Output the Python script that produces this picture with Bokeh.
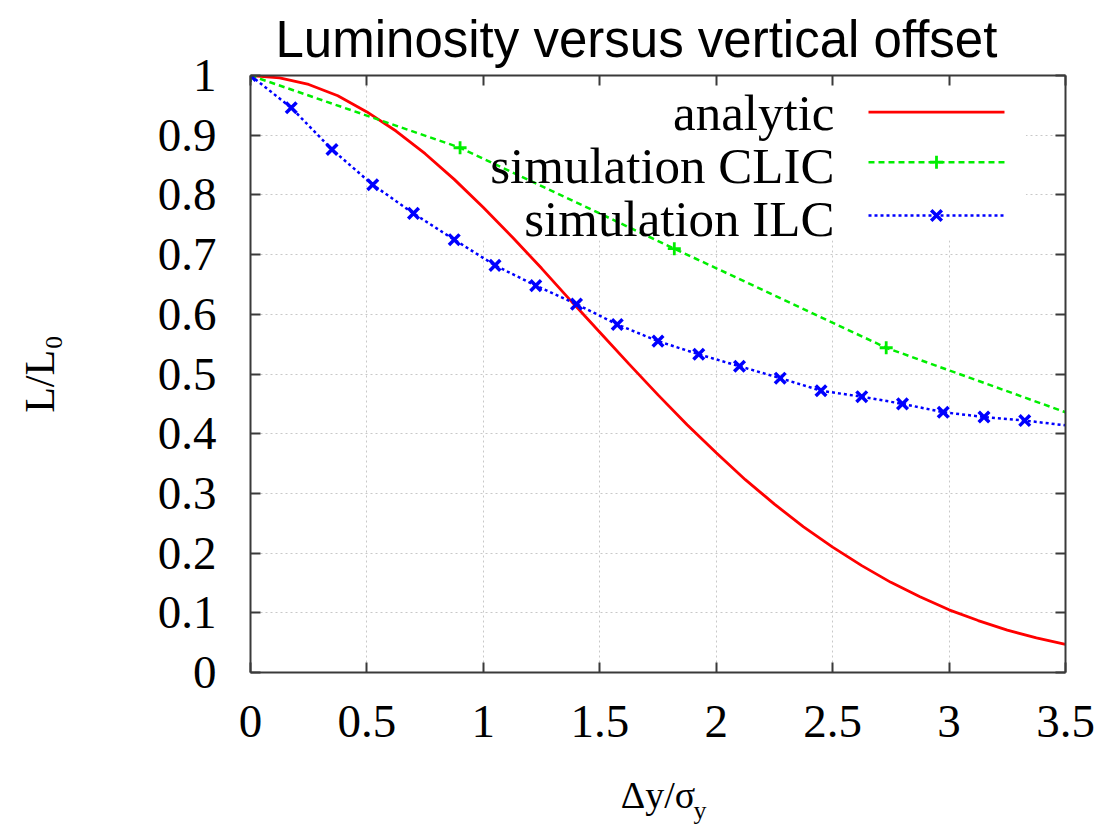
from bokeh.plotting import figure
from bokeh.models import LinearAxis, FixedTicker, Label, Range1d, Grid
from bokeh.embed import file_html
from bokeh.resources import INLINE

# ---------------- data ----------------
TITLE = "Luminosity versus vertical offset"
X_LABEL_MAIN, X_LABEL_SUB = "Δy/σ", "y"
Y_LABEL = "L/L₀"

x_ticks = [0, 0.5, 1, 1.5, 2, 2.5, 3, 3.5]
x_tick_labels = ["0", "0.5", "1", "1.5", "2", "2.5", "3", "3.5"]
y_ticks = [0, 0.1, 0.2, 0.3, 0.4, 0.5, 0.6, 0.7, 0.8, 0.9, 1]
y_tick_labels = ["0", "0.1", "0.2", "0.3", "0.4", "0.5", "0.6", "0.7", "0.8", "0.9", "1"]

series_names = ["analytic", "simulation CLIC", "simulation ILC"]

analytic_x = [0, 0.125, 0.25, 0.375, 0.5, 0.625, 0.75, 0.875, 1.0, 1.125, 1.25, 1.375,
              1.5, 1.625, 1.75, 1.875, 2.0, 2.125, 2.25, 2.375, 2.5, 2.625, 2.75, 2.875,
              3.0, 3.125, 3.25, 3.375, 3.5]
analytic_y = [1.0, 0.996, 0.985, 0.966, 0.939, 0.907, 0.869, 0.826, 0.779, 0.729, 0.677, 0.623,
              0.570, 0.517, 0.465, 0.415, 0.368, 0.323, 0.282, 0.244, 0.210, 0.179, 0.151, 0.127,
              0.105, 0.087, 0.071, 0.058, 0.047]

clic_x = [0, 0.9, 1.82, 2.73, 3.5]
clic_y = [1.0, 0.879, 0.710, 0.544, 0.436]

ilc_x = [0, 0.175, 0.35, 0.525, 0.7, 0.875, 1.05, 1.225, 1.4, 1.575, 1.75, 1.925,
         2.1, 2.275, 2.45, 2.625, 2.8, 2.975, 3.15, 3.325, 3.5]
ilc_y = [1.0, 0.946, 0.876, 0.817, 0.769, 0.725, 0.682, 0.648, 0.617, 0.583, 0.555, 0.533,
         0.513, 0.493, 0.472, 0.462, 0.450, 0.436, 0.428, 0.422, 0.414]

# ---------------- styles ----------------
RED, GREEN, BLUE = "#ff0000", "#00ee00", "#0000ff"
AXIS_COLOR = "#3a3a3a"
SERIF = "Liberation Serif"
SANS = "Liberation Sans"

p = figure(width=1106, height=829, output_backend="svg", toolbar_location=None,
           x_range=Range1d(0, 3.5), y_range=Range1d(0, 1),
           x_axis_type=None, y_axis_type=None,
           min_border_left=250, min_border_right=41, min_border_top=75, min_border_bottom=157,
           background_fill_color="white", border_fill_color="white")
p.outline_line_color = None

p.title.text = TITLE
p.title.text_font = SANS
p.title.text_font_size = "51px"
p.title.text_font_style = "normal"
p.title.text_color = "black"
p.title.align = "left"
p.title.offset = 25
p.title.vertical_align = "top"
p.title.standoff = 12

# grids
for dim, ticks in ((0, x_ticks), (1, y_ticks)):
    g = Grid(dimension=dim, ticker=FixedTicker(ticks=ticks),
             grid_line_color="#c8c8c8", grid_line_dash="2 3", grid_line_width=1)
    p.add_layout(g)

# opaque key background (hides the grid behind the key, stays under the curves)
p.quad(left=[0.5], right=[3.33], bottom=[0.724], top=[1.0],
       fill_color="white", fill_alpha=1.0, line_color=None)


def make_axis(ticks, labels, show, standoff):
    ax = LinearAxis(ticker=FixedTicker(ticks=ticks),
                    axis_line_color=AXIS_COLOR, axis_line_width=2,
                    major_tick_line_color=AXIS_COLOR, major_tick_line_width=2,
                    major_tick_in=10, major_tick_out=0, minor_tick_line_color=None)
    if show:
        ax.major_label_overrides = dict(zip(ticks, labels))
        ax.major_label_text_font = SERIF
        ax.major_label_text_font_size = "47px"
        ax.major_label_text_color = "black"
        ax.major_label_standoff = standoff
    else:
        ax.major_label_text_font_size = "0px"
        ax.major_label_standoff = 0
        ax.major_label_overrides = {t: "" for t in ticks}
    return ax


xaxis = make_axis(x_ticks, x_tick_labels, True, 33)
xaxis.axis_label = X_LABEL_MAIN
xaxis.axis_label_text_font = SERIF
xaxis.axis_label_text_font_size = "38px"
xaxis.axis_label_text_font_style = "normal"
xaxis.axis_label_text_color = "black"
xaxis.axis_label_standoff = 34
p.add_layout(xaxis, "below")

# subscript of the x label, carried by a bare helper axis just below
sub_pos = 1.93
xsub = LinearAxis(ticker=FixedTicker(ticks=[sub_pos]), major_label_overrides={sub_pos: X_LABEL_SUB},
                  axis_line_color=None, major_tick_line_color=None, minor_tick_line_color=None,
                  major_tick_in=0, major_tick_out=0, major_label_standoff=-23,
                  major_label_text_font=SERIF, major_label_text_font_size="26px",
                  major_label_text_color="black")
p.add_layout(xsub, "below")

yaxis = make_axis(y_ticks, y_tick_labels, True, 34)
yaxis.axis_label = Y_LABEL
yaxis.axis_label_text_font = SERIF
yaxis.axis_label_text_font_size = "42px"
yaxis.axis_label_text_font_style = "normal"
yaxis.axis_label_text_color = "black"
yaxis.axis_label_standoff = 92
p.add_layout(yaxis, "left")

p.add_layout(make_axis(x_ticks, x_tick_labels, False, 0), "above")
p.add_layout(make_axis(y_ticks, y_tick_labels, False, 0), "right")

# data series
p.line(analytic_x, analytic_y, line_color=RED, line_width=2.8)
p.line(clic_x, clic_y, line_color=GREEN, line_width=2.5, line_dash="6 4")
p.scatter(clic_x[:-1], clic_y[:-1], marker="cross", size=13, line_color=GREEN, line_width=2.8)
p.line(ilc_x, ilc_y, line_color=BLUE, line_width=2.5, line_dash="3 3")
p.scatter(ilc_x[:-1], ilc_y[:-1], marker="x", size=15, line_color=BLUE, line_width=3.5)

# key: right-aligned text with the sample to its right
leg_text_x = 2.508
leg_line_x0, leg_line_x1, leg_mark_x = 2.654, 3.238, 2.946
leg_text_y = [0.937, 0.848, 0.760]
leg_line_y = [0.9385, 0.8548, 0.7655]
for name, yy in zip(series_names, leg_text_y):
    p.add_layout(Label(x=leg_text_x, y=yy, text=name, text_align="right",
                       text_baseline="alphabetic", text_font=SERIF, text_font_size="51px",
                       text_color="black"))
p.line([leg_line_x0, leg_line_x1], [leg_line_y[0]] * 2, line_color=RED, line_width=2.8)
p.line([leg_line_x0, leg_line_x1], [leg_line_y[1]] * 2, line_color=GREEN, line_width=2.5, line_dash="6 4")
p.scatter([leg_mark_x], [leg_line_y[1]], marker="cross", size=13, line_color=GREEN, line_width=2.8)
p.line([leg_line_x0, leg_line_x1], [leg_line_y[2]] * 2, line_color=BLUE, line_width=2.5, line_dash="3 3")
p.scatter([leg_mark_x], [leg_line_y[2]], marker="x", size=15, line_color=BLUE, line_width=3.5)

open("out.html", "w").write(file_html(p, INLINE))
